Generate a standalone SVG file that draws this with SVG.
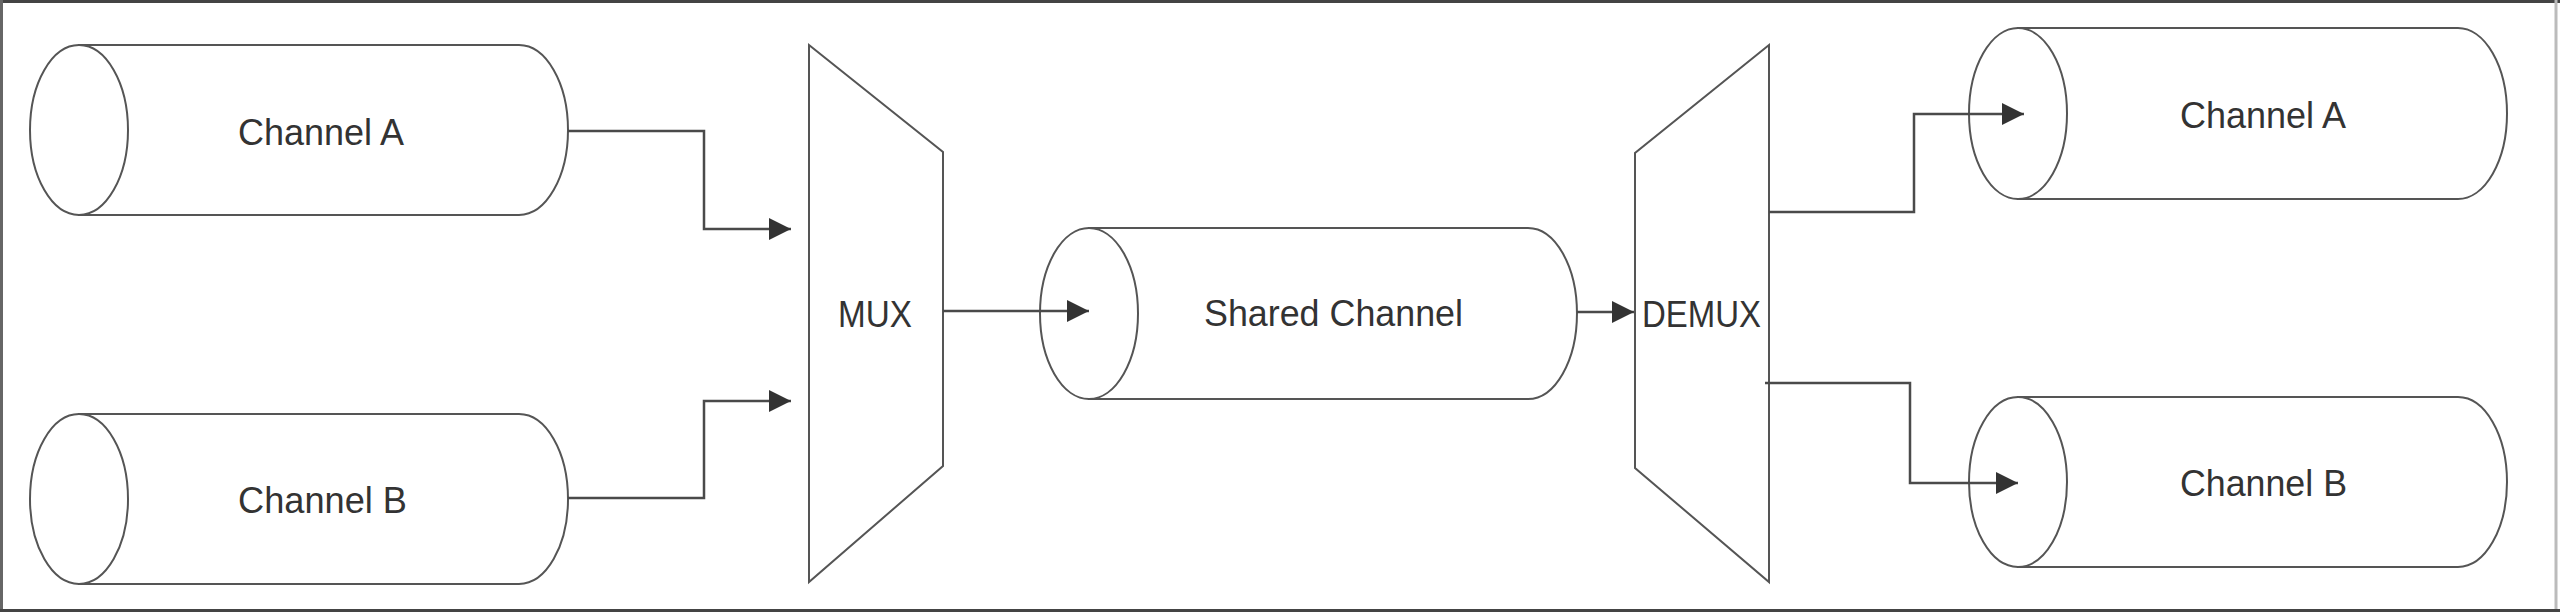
<svg xmlns="http://www.w3.org/2000/svg" width="2560" height="612" viewBox="0 0 2560 612">
<style>
.shape{fill:#fff;stroke:#555;stroke-width:2}
.edge{fill:none;stroke:#4a4a4a;stroke-width:2.5}
.lbl{font-family:"Liberation Sans",Arial,sans-serif;font-size:37px;fill:#333}
</style>
<defs>
<marker id="arr" markerUnits="userSpaceOnUse" markerWidth="22" markerHeight="22" refX="22" refY="11" orient="auto">
<path d="M0,0 L22,11 L0,22 z" fill="#333"/>
</marker>
</defs>
<rect x="0" y="0" width="2560" height="612" fill="#fff"/>
<g id="frame">
<line x1="0" y1="1.5" x2="2560" y2="1.5" stroke="#444" stroke-width="3"/>
<line x1="1.5" y1="0" x2="1.5" y2="612" stroke="#666" stroke-width="3"/>
<line x1="2556" y1="0" x2="2556" y2="612" stroke="#bbb" stroke-width="3"/>
<line x1="0" y1="610.5" x2="2560" y2="610.5" stroke="#444" stroke-width="3"/>
</g>
<g id="chanA_in">
<path class="shape" d="M79,45 L519,45 A49,85 0 0 1 519,215 L79,215 Z"/>
<ellipse class="shape" cx="79" cy="130" rx="49" ry="85"/>
<text class="lbl" x="238" y="144.5" textLength="166" lengthAdjust="spacingAndGlyphs">Channel A</text>
</g>
<g id="chanB_in">
<path class="shape" d="M79,414 L519,414 A49,85 0 0 1 519,584 L79,584 Z"/>
<ellipse class="shape" cx="79" cy="499" rx="49" ry="85"/>
<text class="lbl" x="238" y="513" textLength="169" lengthAdjust="spacingAndGlyphs">Channel B</text>
</g>
<g id="mux">
<polygon class="shape" points="809,45 943,152 943,466 809,582"/>
<text class="lbl" x="838" y="327" textLength="74" lengthAdjust="spacingAndGlyphs">MUX</text>
</g>
<g id="shared">
<path class="shape" d="M1089,228 L1528,228 A49,85.5 0 0 1 1528,399 L1089,399 Z"/>
<ellipse class="shape" cx="1089" cy="313.5" rx="49" ry="85.5"/>
<text class="lbl" x="1204" y="326" textLength="259" lengthAdjust="spacingAndGlyphs">Shared Channel</text>
</g>
<g id="demux">
<polygon class="shape" points="1769,45 1635,153 1635,468 1769,582"/>
<text class="lbl" x="1642" y="327" textLength="119" lengthAdjust="spacingAndGlyphs">DEMUX</text>
</g>
<g id="chanA_out">
<path class="shape" d="M2018,28 L2458,28 A49,85.5 0 0 1 2458,199 L2018,199 Z"/>
<ellipse class="shape" cx="2018" cy="113.5" rx="49" ry="85.5"/>
<text class="lbl" x="2180" y="127.5" textLength="166" lengthAdjust="spacingAndGlyphs">Channel A</text>
</g>
<g id="chanB_out">
<path class="shape" d="M2018,397 L2458,397 A49,85 0 0 1 2458,567 L2018,567 Z"/>
<ellipse class="shape" cx="2018" cy="482" rx="49" ry="85"/>
<text class="lbl" x="2180" y="495.5" textLength="167" lengthAdjust="spacingAndGlyphs">Channel B</text>
</g>
<g id="connectors">
<path class="edge" d="M568,131 H704 V229 H791" marker-end="url(#arr)"/>
<path class="edge" d="M568,498 H704 V401 H791" marker-end="url(#arr)"/>
<path class="edge" d="M943,311 H1089" marker-end="url(#arr)"/>
<path class="edge" d="M1577,312 H1634" marker-end="url(#arr)"/>
<path class="edge" d="M1769,212 H1914 V114 H2024" marker-end="url(#arr)"/>
<path class="edge" d="M1765,383 H1910 V483 H2018" marker-end="url(#arr)"/>
</g>
</svg>
